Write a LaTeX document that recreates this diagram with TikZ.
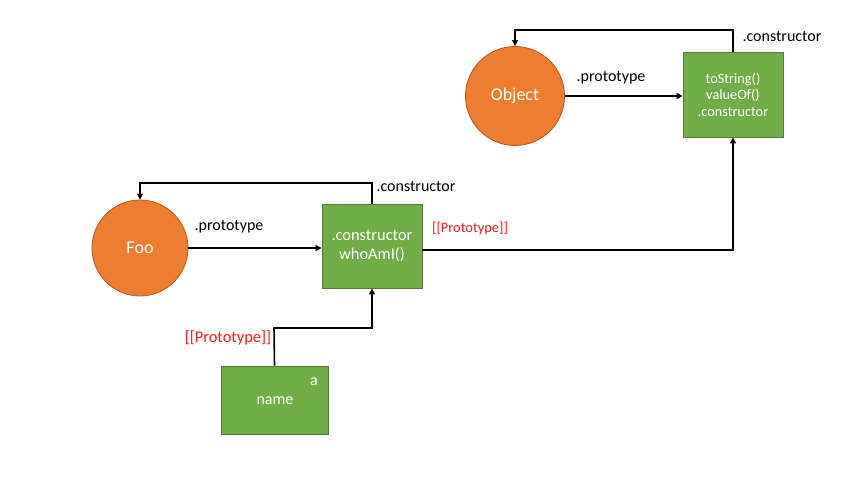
\documentclass[tikz,border=0pt]{standalone}
\usepackage{fontspec}
\setmainfont{Carlito}
\usetikzlibrary{arrows.meta}
\definecolor{objorange}{HTML}{ED7D31}
\definecolor{objorangeedge}{HTML}{AE5A21}
\definecolor{protogreen}{HTML}{70AD47}
\definecolor{protogreenedge}{HTML}{507E32}
\definecolor{linkred}{HTML}{FF1A1A}
\begin{document}
\begin{tikzpicture}[x=1pt,y=-1pt,
  fnode/.style={circle,fill=objorange,draw=objorangeedge,line width=0.8pt,inner sep=0pt,
    minimum size=#1,text=white,font=\fontsize{18}{20}\selectfont},
  pbox/.style={rectangle,fill=protogreen,draw=protogreenedge,line width=0.8pt,inner sep=0pt,
    text=white,align=center},
  link/.style={line width=1.6pt,-{Triangle[length=6pt,width=6pt]}},
  lbl/.style={font=\fontsize{16}{18}\selectfont,inner sep=0pt},
  redlbl/.style={font=\fontsize{#1}{18}\selectfont,text=linkred,inner sep=0pt}]
\useasboundingbox (0,0) rectangle (855,477);
\fill[white] (0,0) rectangle (855,477);

% Object and its prototype
\node[fnode=99pt] (object) at (515,96) {Object};
\node[pbox,minimum width=100pt,minimum height=85pt,font=\fontsize{14.3}{16.5}\selectfont]
  (objproto) at (733,94.5) {toString()\\valueOf()\\.constructor};

% Foo and its prototype
\node[fnode=96pt] (foo) at (140,248) {Foo};
\node[pbox,minimum width=100pt,minimum height=84pt,font=\fontsize{16.4}{19}\selectfont]
  (fooproto) at (372,246) {.constructor\\whoAmI()};

% instance a
\node[pbox,minimum width=107pt,minimum height=68pt] (inst) at (274.5,400) {};
\node[text=white,font=\fontsize{16}{18}\selectfont,inner sep=0pt] (instname) at (275,401) {name};
\node[text=white,font=\fontsize{16}{18}\selectfont,inner sep=0pt] (instlabel) at (314,382) {a};

% corner coordinates of the routed connectors
\coordinate (objtop) at (733,30);
\coordinate (objleft) at (515,30);
\coordinate (footop) at (372,183);
\coordinate (fooleft) at (140,183);
\coordinate (instturn) at (274,328);
\coordinate (instright) at (372,328);
\coordinate (fooright) at (733,250);

% .prototype links
\draw[link] (object.east) -- (objproto.west |- object.east);
\draw[link] (foo.east) -- (fooproto.west |- foo.east);

% .constructor links
\draw[link] (objproto.north) -- (objtop) -- (objleft) -- (object.north);
\draw[link] (fooproto.north) -- (footop) -- (fooleft) -- (foo.north);

% [[Prototype]] links
\draw[link] (fooproto.east |- fooright) -- (fooright) -- (objproto.south);
\draw[link] (inst.north) -- (instturn) -- (instright) -- (fooproto.south);

% labels
\node[lbl] (lproto1) at (611,78) {.prototype};
\node[lbl] (lcons1) at (782,37) {.constructor};
\node[lbl] (lproto2) at (229,227) {.prototype};
\node[lbl] (lcons2) at (416,187) {.constructor};
\node[redlbl=14.4] (lpp1) at (470,228) {[[Prototype]]};
\node[redlbl=16.4] (lpp2) at (228,338) {[[Prototype]]};
\end{tikzpicture}
\end{document}
